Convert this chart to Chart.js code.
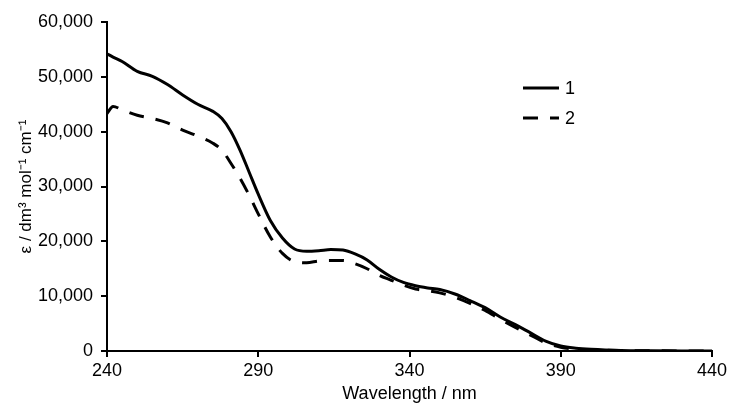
<!DOCTYPE html>
<html>
<head>
<meta charset="utf-8">
<script src="https://cdn.jsdelivr.net/npm/chart.js@4"></script>
<style>
  html, body { margin: 0; padding: 0; background: #fff; }
  #wrap { width: 731px; height: 403px; }
</style>
</head>
<body>
<div id="wrap"><canvas id="spectrum" width="731" height="403"></canvas></div>
<script>
// wavelengths (nm)
wavelength = [240, 242, 245, 250, 255, 260, 265, 270, 275, 278, 281, 284, 287, 290,
  294, 298, 302, 306, 310, 314, 318, 322, 326, 330, 334, 338, 342, 346, 350,
  355, 360, 365, 370, 375, 380, 385, 390, 395, 400, 410, 420, 430, 440];

// compound 1 (solid line), epsilon / dm3 mol-1 cm-1
eps1 = [54200, 53600, 52800, 51000, 50100, 48600, 46700, 45000, 43700, 42400, 40000, 36600, 32600, 28600,
  23800, 20600, 18600, 18200, 18300, 18500, 18400, 17700, 16600, 14900, 13500, 12500, 11900, 11500, 11200,
  10400, 9200, 7900, 6200, 4800, 3300, 1800, 900, 500, 300, 100, 50, 20, 0];

// compound 2 (dashed line)
eps2 = [43300, 44600, 44000, 43000, 42400, 41600, 40300, 39200, 37900, 36600, 34200, 31500, 28400, 25000,
  20800, 17800, 16300, 16100, 16400, 16500, 16500, 15900, 15000, 13800, 12900, 12000, 11300, 11000, 10600,
  9800, 8700, 7400, 5800, 4300, 2900, 1500, 700, 350, 200, 80, 40, 10, 0];

seriesLabels = ["1", "2"];
xTicks = [240, 290, 340, 390, 440];
yTicks = [0, 10000, 20000, 30000, 40000, 50000, 60000];

function to_points(xs, ys) {
  pts = [];
  for (let i = 0; i < xs.length; i++) {
    pts.push({x: xs[i], y: ys[i]});
  }
  return pts;
}

const FONT = "'Liberation Sans', Arial, sans-serif";

// small legend drawn inside the plot, next to the curves
const insideLegend = {
  id: 'insideLegend',
  afterDraw(chart) {
    const ctx = chart.ctx;
    const rows = [88, 118];
    ctx.save();
    chart.data.datasets.forEach(function(ds, i) {
      ctx.beginPath();
      ctx.strokeStyle = ds.borderColor;
      ctx.lineWidth = ds.borderWidth;
      ctx.setLineDash(ds.borderDash || []);
      ctx.moveTo(523, rows[i]);
      ctx.lineTo(559, rows[i]);
      ctx.stroke();
      ctx.setLineDash([]);
      ctx.fillStyle = '#000';
      ctx.font = '18px ' + FONT;
      ctx.textBaseline = 'middle';
      ctx.textAlign = 'left';
      ctx.fillText(ds.label, 565, rows[i] + 1);
    });
    ctx.restore();
  }
};

const data = {
  datasets: [{
    label: seriesLabels[0],
    data: to_points(wavelength, eps1),
    borderColor: '#000',
    borderWidth: 3,
  }, {
    label: seriesLabels[1],
    data: to_points(wavelength, eps2),
    borderColor: '#000',
    borderWidth: 3,
    borderDash: [15, 12],
  }]
};

const options = {
  responsive: false,
  animation: false,
  layout: { padding: { top: 22, right: 19, left: 0, bottom: 0 } },
  elements: {
    point: { radius: 0 },
    line: { tension: 0.3, cubicInterpolationMode: 'monotone', fill: false }
  },
  plugins: {
    legend: { display: false },
    tooltip: { enabled: false }
  },
  scales: {
    x: {
      type: 'linear',
      min: 240,
      max: 440,
      afterBuildTicks: function(scale) {
        scale.ticks = xTicks.map(function(v) { return {value: v}; });
      },
      afterFit: function(scale) { scale.height = 52; },
      border: { color: '#000', width: 2 },
      grid: { drawOnChartArea: false, color: '#000', lineWidth: 2, tickLength: 6 },
      ticks: { color: '#000', font: { family: FONT, size: 18 }, padding: 3, maxRotation: 0 },
      title: {
        display: true,
        text: 'Wavelength / nm',
        color: '#000',
        font: { family: FONT, size: 18, lineHeight: 1 },
        padding: { top: 0, bottom: 0 }
      }
    },
    y: {
      min: 0,
      max: 60000,
      afterBuildTicks: function(scale) {
        scale.ticks = yTicks.map(function(v) { return {value: v}; });
      },
      afterFit: function(scale) { scale.width = 107; },
      border: { color: '#000', width: 2 },
      grid: { drawOnChartArea: false, color: '#000', lineWidth: 2, tickLength: 6 },
      ticks: {
        color: '#000',
        font: { family: FONT, size: 18 },
        padding: 8,
        callback: function(v) { return v.toLocaleString('en-US'); }
      },
      title: {
        display: true,
        text: '\u03b5 / dm\u00b3 mol\u207b\u00b9 cm\u207b\u00b9',
        color: '#000',
        font: { family: FONT, size: 17, lineHeight: 1 },
        padding: { top: 18, bottom: 0 }
      }
    }
  }
};

const ctx = document.getElementById('spectrum').getContext('2d');
myChart = new Chart(ctx, {
  type: 'line',
  data: data,
  options: options,
  plugins: [insideLegend],
});
</script>
</body>
</html>
